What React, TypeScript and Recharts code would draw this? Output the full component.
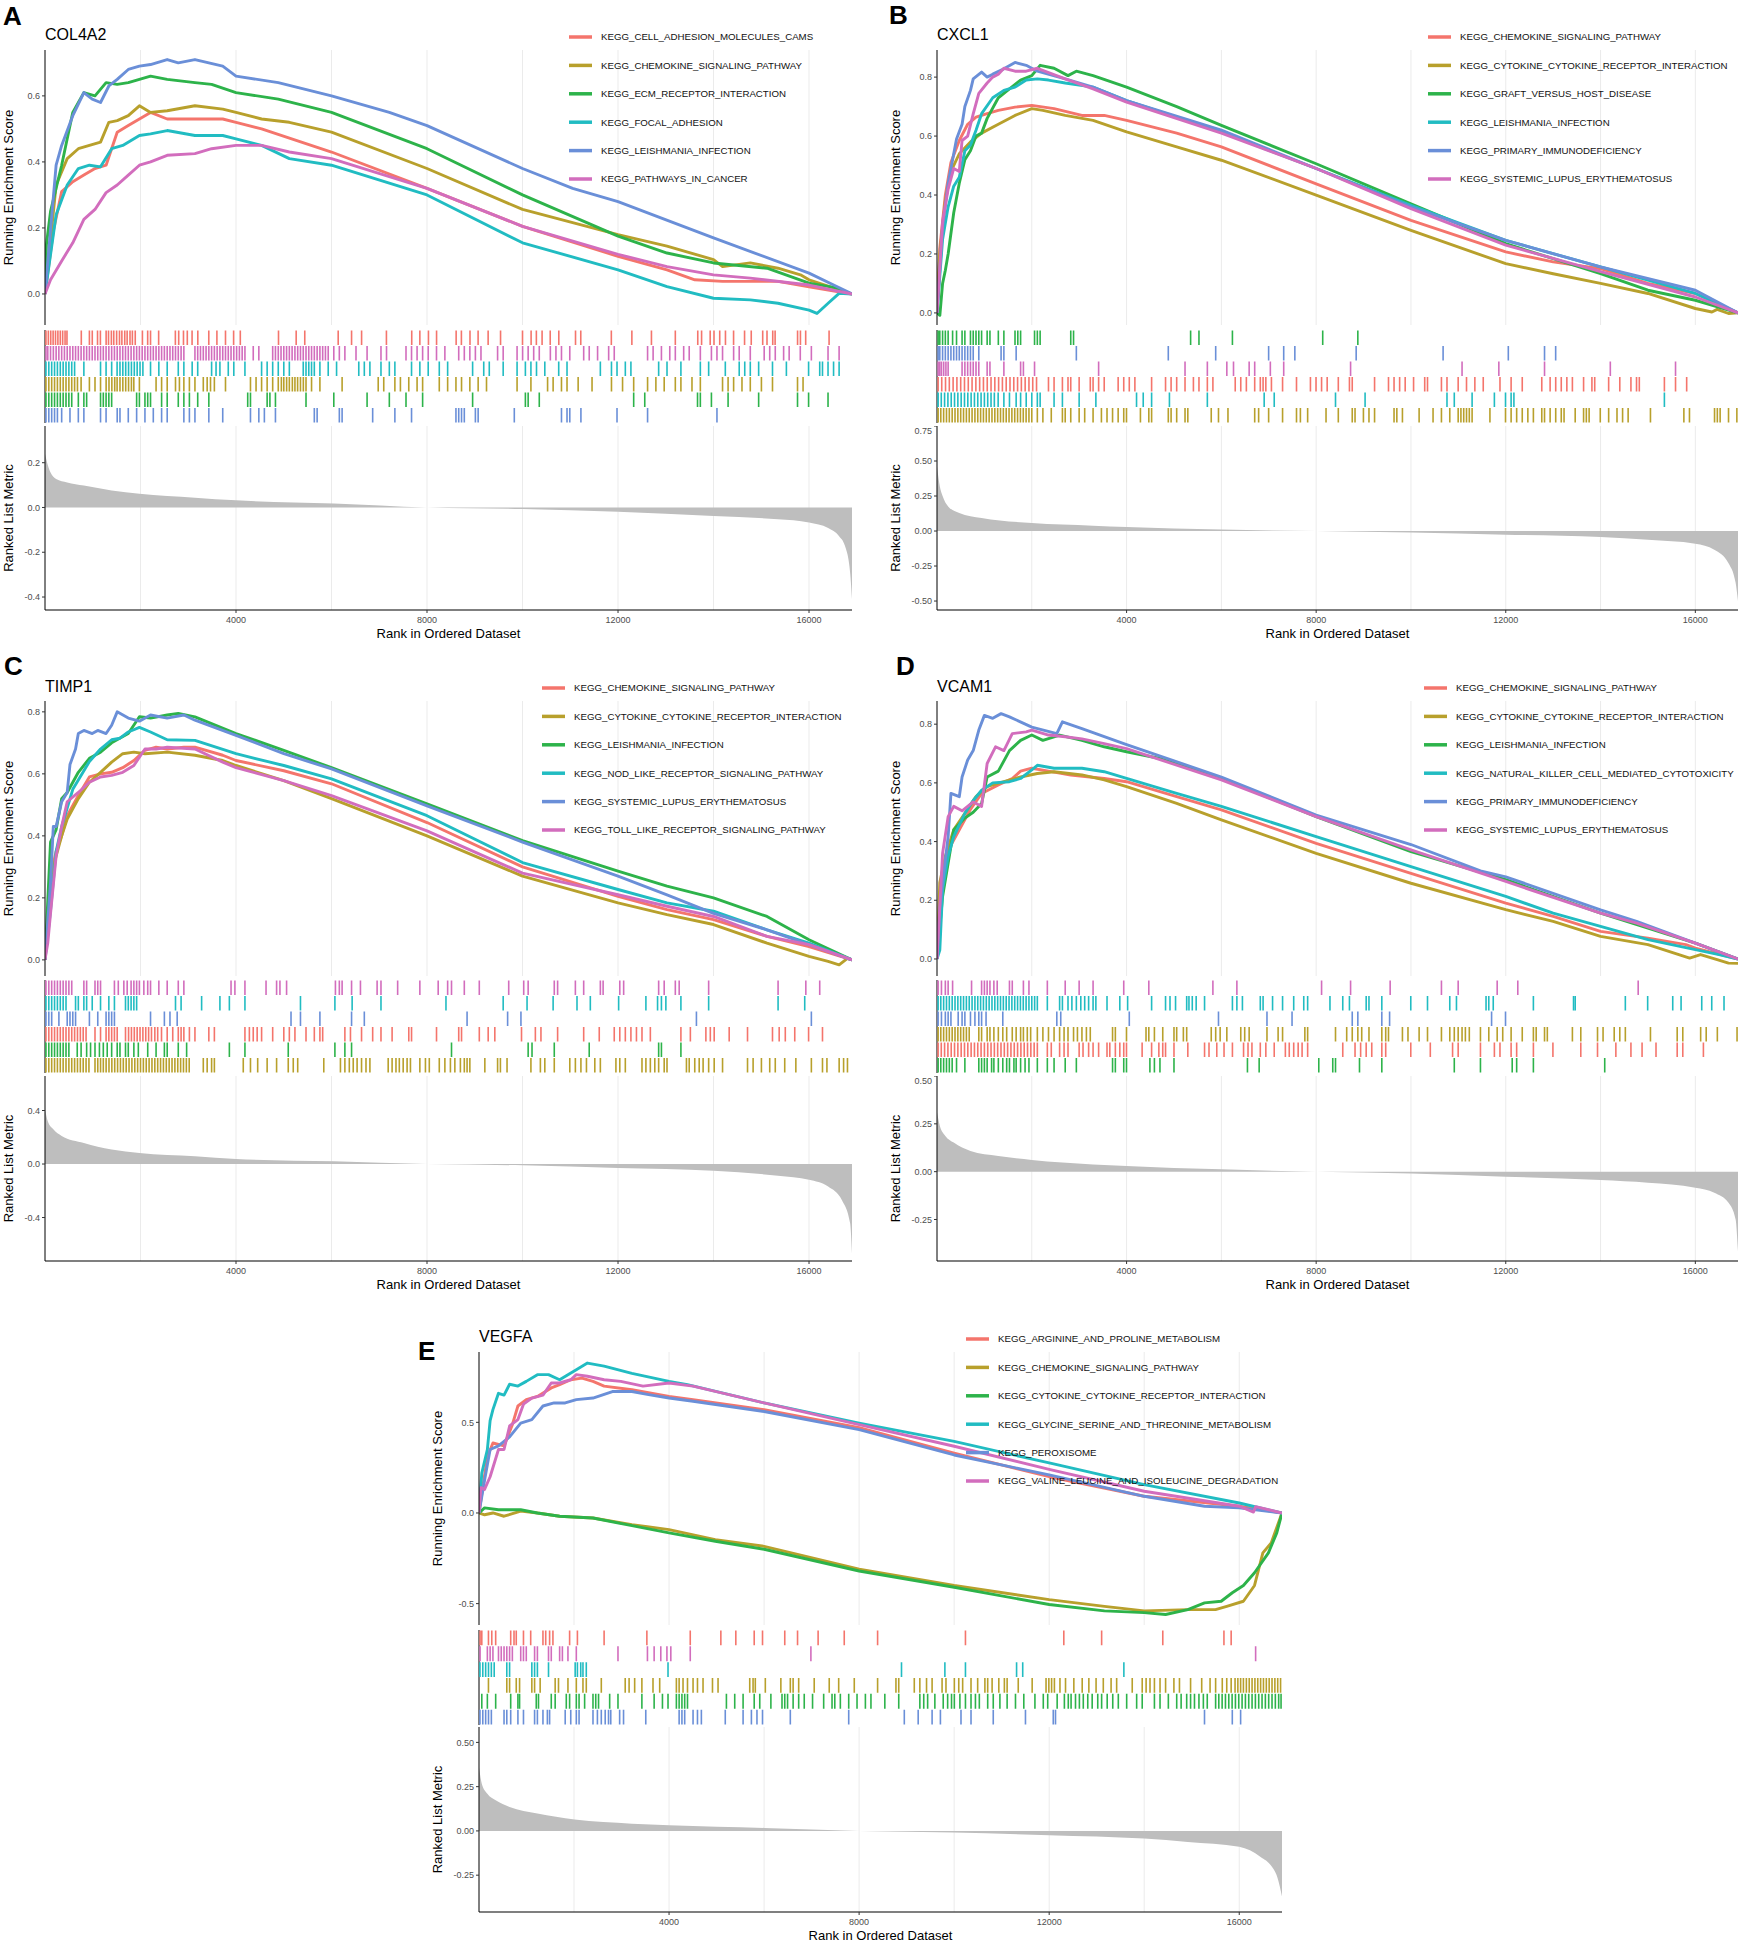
import React from "react";
import { ComposedChart, Line, Area, Scatter, XAxis, YAxis, CartesianGrid } from "recharts";

const N_GENES = 16900;
const GRID_RANKS = [2000, 4000, 6000, 8000, 10000, 12000, 14000, 16000];

const RED = "#F4756C";
const OLIVE = "#B8A02C";
const GREEN = "#2DB34A";
const CYAN = "#21BCC2";
const BLUE = "#6A8FD8";
const PINK = "#D26DBD";
const SET_COLORS = [RED, OLIVE, GREEN, CYAN, BLUE, PINK];

// ---------- A: COL4A2 ----------
const setsA = [
  "KEGG_CELL_ADHESION_MOLECULES_CAMS",
  "KEGG_CHEMOKINE_SIGNALING_PATHWAY",
  "KEGG_ECM_RECEPTOR_INTERACTION",
  "KEGG_FOCAL_ADHESION",
  "KEGG_LEISHMANIA_INFECTION",
  "KEGG_PATHWAYS_IN_CANCER",
];
const esA_cams = [[0,0],[174,0.19],[349,0.31],[582,0.34],[814,0.36],[1047,0.38],[1279,0.39],[1512,0.49],[1744,0.51],[1977,0.53],[2210,0.55],[2559,0.53],[3140,0.53],[3722,0.53],[4000,0.52],[4536,0.5],[6000,0.43],[8000,0.32],[10000,0.205],[12000,0.114],[13026,0.073],[13608,0.043],[14190,0.038],[15350,0.038],[16000,0.022],[16900,0]];
const esA_chemokine = [[0,0],[233,0.33],[465,0.41],[698,0.44],[930,0.45],[1163,0.46],[1337,0.52],[1512,0.525],[1744,0.54],[1977,0.57],[2210,0.55],[2559,0.555],[3140,0.57],[3722,0.56],[4000,0.55],[4536,0.53],[5117,0.52],[6000,0.49],[8000,0.38],[10000,0.256],[12000,0.18],[13026,0.145],[14000,0.104],[14190,0.083],[14770,0.094],[15350,0.078],[15820,0.058],[16000,0.043],[16900,0]];
const esA_ecm = [[0,0],[30,0.15],[116,0.25],[349,0.39],[465,0.47],[582,0.55],[814,0.61],[1047,0.6],[1279,0.64],[1512,0.635],[1744,0.64],[1977,0.65],[2210,0.66],[2559,0.65],[3140,0.64],[3489,0.635],[4000,0.61],[4885,0.59],[6000,0.55],[8000,0.44],[10000,0.3],[12000,0.175],[13026,0.124],[14000,0.094],[15120,0.078],[16000,0.033],[16516,0.02],[16900,0]];
const esA_focal = [[0,0],[233,0.24],[465,0.33],[698,0.38],[930,0.39],[1163,0.385],[1396,0.44],[1628,0.45],[1977,0.48],[2210,0.485],[2559,0.495],[3140,0.48],[3722,0.48],[4000,0.47],[4536,0.45],[5117,0.41],[6000,0.39],[8000,0.3],[10000,0.155],[12000,0.073],[13026,0.022],[14000,-0.013],[14770,-0.018],[15350,-0.028],[16000,-0.049],[16166,-0.059],[16400,-0.028],[16630,0.002],[16900,0]];
const esA_leish = [[0,0],[233,0.39],[349,0.45],[582,0.54],[814,0.61],[989,0.59],[1163,0.58],[1337,0.63],[1512,0.65],[1744,0.68],[1977,0.69],[2210,0.695],[2559,0.71],[2791,0.7],[3140,0.71],[3722,0.69],[4000,0.66],[4885,0.64],[6000,0.6],[7211,0.55],[8000,0.51],[10000,0.38],[11050,0.32],[12000,0.28],[14000,0.17],[16000,0.063],[16516,0.027],[16900,0]];
const esA_cancer = [[0,0],[116,0.043],[349,0.1],[582,0.155],[814,0.226],[1047,0.256],[1279,0.307],[1512,0.33],[1744,0.36],[1977,0.39],[2210,0.4],[2559,0.42],[3140,0.425],[3489,0.44],[4000,0.45],[4536,0.45],[5117,0.43],[6000,0.41],[8000,0.32],[10000,0.205],[12000,0.12],[13026,0.083],[14000,0.058],[14770,0.048],[16000,0.027],[16900,0]];
const hitsA_cams = [20,70,120,170,220,270,320,370,420,460,760,930,990,1100,1160,1280,1330,1390,1440,1500,1560,1610,1670,1720,1780,1830,1890,2040,2150,2210,2380,2730,2800,2900,2980,3080,3200,3430,3600,3780,3950,4090,4890,5260,5440,6140,6420,6630,7150,7680,7850,8030,8200,8610,8720,8900,9070,9280,9540,10000,10180,10290,10410,10580,10760,11110,11220,11860,12290,12700,13200,13670,13750,13930,14010,14130,14250,14420,14650,14790,15030,15120,15240,15290,15760,15820,15930,16420];
const hitsA_chemokine = [20,80,140,200,260,320,380,440,500,560,620,680,756,930,1047,1163,1280,1340,1400,1460,1510,1570,1630,1690,1750,1810,1860,1977,2326,2442,2559,2733,2815,2908,3024,3140,3315,3396,3466,3547,3780,4303,4420,4536,4652,4768,4885,4950,5001,5060,5117,5180,5234,5290,5350,5410,5466,5582,5757,6222,6978,7094,7327,7443,7618,7792,7908,8257,8432,8606,8723,8897,9071,9246,9886,10176,10525,10641,10816,10932,11165,11456,11863,12095,12328,12619,12793,12967,13200,13317,13549,13724,14189,14305,14421,14596,14770,15003,15235,15759,15875];
const hitsA_ecm = [20,80,140,200,260,320,380,440,500,560,698,814,872,1163,1221,1279,1337,1396,1919,1977,2093,2151,2210,2442,2559,2791,2908,3024,3198,3431,4245,4303,4652,4710,4826,5466,6048,6745,7211,7560,7908,8955,10060,10118,10351,12328,12560,13665,13724,13956,14305,14945,15759,15991,16398];
const hitsA_focal = [20,80,140,200,260,320,380,440,500,560,620,814,1163,1279,1396,1510,1570,1630,1690,1750,1810,1870,1930,1990,2050,2210,2384,2559,2791,2908,3082,3198,3489,3582,3663,3838,3954,4187,4536,4652,4768,4885,5001,5117,5408,5466,5524,5582,5640,5757,5931,6106,6571,6687,6804,7036,7211,7327,7676,7850,8025,8257,8432,8955,9188,9304,9595,9886,10060,10176,10293,10467,10758,10932,11630,11863,11979,12153,12270,12851,13026,13317,13724,13898,14247,14538,14654,14770,14945,15235,15526,15991,16224,16282,16398,16514,16630];
const hitsA_leish = [20,80,140,200,260,349,523,698,814,1163,1279,1512,1570,1744,1919,2093,2268,2442,2559,2908,3024,3140,3431,3722,4303,4478,4594,4826,5640,5699,6164,6222,6862,7327,7676,8606,8664,8723,8781,9013,9071,9828,10816,10932,10990,11223,11979,12619,14072];
const hitsA_cancer = [20,58,116,175,233,290,349,407,465,523,582,640,698,756,814,872,930,989,1047,1105,1163,1221,1279,1337,1396,1454,1512,1570,1628,1686,1744,1803,1861,1919,1977,2035,2093,2151,2210,2268,2326,2384,2442,2500,2559,2617,2675,2733,2791,2850,2908,3140,3198,3256,3315,3373,3431,3489,3547,3605,3663,3722,3780,3838,3896,3954,4013,4071,4129,4187,4361,4478,4768,4826,4885,4943,5001,5059,5117,5175,5234,5292,5350,5408,5466,5524,5582,5640,5699,5757,5815,5873,5931,6048,6164,6280,6513,6745,7036,7152,7560,7676,7792,7908,8025,8199,8374,8664,8781,8897,9013,9130,9478,9595,9886,10002,10118,10234,10351,10583,10700,10816,10990,11281,11397,11572,11804,11921,12619,12735,12909,13084,13200,13375,13491,13724,13956,14072,14189,14421,14538,14770,15061,15177,15293,15468,15584,15817,16049,16398,16630];
const rugOrderA = [0, 5, 3, 1, 2, 4];
const metricRankA = [0,58,116,233,465,814,1396,1977,3140,4000,6048,8000,10000,12000,14000,15350,16000,16400,16630,16750,16860,16900];
const metricValueA = [0.24,0.19,0.156,0.127,0.112,0.098,0.076,0.061,0.044,0.032,0.018,0,-0.007,-0.019,-0.038,-0.053,-0.067,-0.092,-0.128,-0.17,-0.29,-0.41];

// ---------- B: CXCL1 ----------
const setsB = [
  "KEGG_CHEMOKINE_SIGNALING_PATHWAY",
  "KEGG_CYTOKINE_CYTOKINE_RECEPTOR_INTERACTION",
  "KEGG_GRAFT_VERSUS_HOST_DISEASE",
  "KEGG_LEISHMANIA_INFECTION",
  "KEGG_PRIMARY_IMMUNODEFICIENCY",
  "KEGG_SYSTEMIC_LUPUS_ERYTHEMATOSUS",
];
const esB_chemokine = [[0,0],[59,0.22],[176,0.4],[294,0.51],[470,0.585],[647,0.64],[823,0.664],[1058,0.676],[1294,0.687],[1646,0.698],[2000,0.704],[2470,0.693],[3058,0.67],[3528,0.67],[4000,0.653],[5057,0.61],[6000,0.563],[8000,0.438],[10000,0.314],[12000,0.207],[13000,0.173],[14000,0.15],[15000,0.1],[16000,0.066],[16900,0]];
const esB_cytokine = [[0,0],[59,0.2],[176,0.38],[294,0.48],[470,0.54],[706,0.58],[941,0.61],[1294,0.64],[1646,0.67],[2000,0.693],[2234,0.687],[2705,0.67],[3293,0.653],[4000,0.614],[5057,0.563],[6000,0.518],[8000,0.4],[10000,0.28],[12000,0.167],[13000,0.133],[14000,0.1],[15000,0.066],[16000,0.015],[16350,0.003],[16460,0.012],[16700,-0.002],[16900,0]];
const esB_gvhd = [[0,0],[60,-0.008],[118,0.1],[176,0.145],[235,0.2],[353,0.34],[470,0.44],[588,0.52],[706,0.55],[823,0.6],[941,0.61],[1058,0.66],[1294,0.73],[1529,0.76],[1764,0.79],[2000,0.805],[2176,0.84],[2470,0.83],[2764,0.805],[2940,0.82],[3293,0.805],[4000,0.766],[5057,0.7],[6000,0.636],[8000,0.506],[10000,0.37],[12000,0.235],[13000,0.184],[14000,0.133],[15000,0.077],[16000,0.043],[16900,0]];
const esB_leish = [[0,0],[118,0.25],[235,0.36],[353,0.43],[470,0.46],[588,0.55],[706,0.57],[823,0.62],[941,0.676],[1176,0.73],[1411,0.755],[1646,0.766],[1882,0.79],[2117,0.794],[2352,0.79],[2705,0.78],[3293,0.766],[4000,0.72],[6000,0.614],[8000,0.49],[10000,0.365],[12000,0.246],[14000,0.156],[16000,0.066],[16900,0]];
const esB_primary = [[0,0],[118,0.29],[235,0.44],[353,0.54],[412,0.59],[529,0.64],[588,0.7],[706,0.755],[764,0.794],[941,0.817],[1058,0.8],[1176,0.81],[1411,0.828],[1646,0.85],[1882,0.84],[2117,0.82],[2705,0.794],[3293,0.766],[4000,0.72],[6000,0.62],[8000,0.49],[10000,0.36],[12000,0.246],[14000,0.156],[16000,0.077],[16900,0]];
const esB_sle = [[0,0],[118,0.31],[235,0.42],[353,0.49],[470,0.48],[529,0.585],[647,0.6],[764,0.675],[882,0.745],[1058,0.78],[1176,0.8],[1294,0.81],[1411,0.83],[1646,0.82],[1882,0.82],[2117,0.83],[2705,0.794],[3293,0.76],[4000,0.715],[6000,0.61],[8000,0.49],[10000,0.354],[12000,0.23],[14000,0.14],[16000,0.054],[16900,0]];
const hitsB_chemokine = [24,100,180,260,340,420,500,580,660,740,820,900,980,1060,1140,1220,1300,1380,1460,1540,1620,1700,1780,1860,1940,2020,2100,2352,2470,2646,2764,2822,2999,3234,3293,3410,3528,3822,3940,4057,4175,4528,4822,4939,5057,5233,5410,5527,5704,5821,6292,6409,6527,6703,6821,6880,6938,7056,7291,7585,7879,7997,8114,8232,8467,8702,8761,9232,9526,9643,9761,9878,10055,10290,10349,10643,10760,10996,11172,11348,11525,11878,12113,12348,12760,12936,13054,13171,13289,13406,13642,13818,13877,14171,14406,14641,14759,14818,15347,15582,15817];
const hitsB_cytokine = [24,80,140,200,260,320,380,440,500,560,620,680,740,800,860,920,980,1040,1100,1160,1220,1280,1340,1400,1460,1520,1580,1640,1700,1760,1820,1880,1940,2000,2117,2234,2411,2646,2705,2822,2999,3116,3293,3469,3587,3704,3822,3940,3998,4292,4469,4528,4880,4939,5057,5233,5292,5786,5939,6139,6703,6786,6997,7291,7585,7667,7820,8208,8467,8761,8820,8997,9114,9232,9643,9702,9820,10172,10466,10643,10819,10996,11054,11113,11172,11231,11290,11666,11995,12113,12230,12348,12466,12583,12760,12818,12936,13054,13171,13230,13465,13642,13700,13759,13994,14171,14347,14465,14582,15053,15758,15876,16405,16464,16523,16700,16876];
const hitsB_gvhd = [24,59,118,176,235,329,412,529,588,706,764,823,882,941,1058,1117,1294,1411,1646,1705,1764,2058,2117,2176,2822,2881,5351,5527,6233,8138,8879];
const hitsB_leish = [24,90,160,230,300,370,440,510,580,650,720,790,860,930,1000,1070,1140,1210,1290,1411,1529,1670,1764,1882,2000,2117,2176,2470,2646,2999,3352,4210,4351,4528,4904,5704,6903,7115,8408,9032,10760,10914,11290,11760,11995,12113,12172,15347];
const hitsB_primary = [24,59,118,176,235,294,353,412,470,529,588,647,706,764,882,1352,1411,1670,2940,4880,5880,6997,7315,7550,8844,10678,12054,12818,13053];
const hitsB_sle = [24,59,94,141,188,235,529,588,647,706,764,823,882,1058,1117,1411,1764,1823,2058,3410,5233,5704,6115,6256,6586,6703,7033,7315,8726,11078,11854,12818,14206,15582];
const rugOrderB = [2, 4, 5, 0, 3, 1];
const metricRankB = [0,59,118,235,470,941,2000,3293,4000,6000,8000,10000,12000,14000,15000,16000,16400,16700,16850,16900];
const metricValueB = [0.46,0.32,0.25,0.176,0.129,0.093,0.057,0.038,0.029,0.01,0,-0.01,-0.026,-0.043,-0.062,-0.09,-0.133,-0.23,-0.37,-0.5];

// ---------- C: TIMP1 ----------
const setsC = [
  "KEGG_CHEMOKINE_SIGNALING_PATHWAY",
  "KEGG_CYTOKINE_CYTOKINE_RECEPTOR_INTERACTION",
  "KEGG_LEISHMANIA_INFECTION",
  "KEGG_NOD_LIKE_RECEPTOR_SIGNALING_PATHWAY",
  "KEGG_SYSTEMIC_LUPUS_ERYTHEMATOSUS",
  "KEGG_TOLL_LIKE_RECEPTOR_SIGNALING_PATHWAY",
];
const esC_chemokine = [[0,0],[116,0.27],[233,0.35],[349,0.4],[465,0.465],[698,0.53],[930,0.59],[1163,0.6],[1396,0.605],[1628,0.62],[1861,0.643],[2093,0.676],[2326,0.686],[2559,0.68],[2908,0.686],[3140,0.686],[3722,0.66],[4000,0.643],[5001,0.61],[6000,0.568],[8000,0.443],[10000,0.3],[12000,0.205],[13026,0.162],[14000,0.13],[15120,0.076],[16000,0.043],[16900,0]];
const esC_cytokine = [[0,0],[116,0.25],[233,0.335],[349,0.4],[465,0.454],[698,0.52],[930,0.573],[1163,0.605],[1396,0.638],[1628,0.665],[1861,0.67],[2093,0.665],[2559,0.67],[3140,0.66],[3722,0.643],[4000,0.627],[5001,0.578],[6000,0.52],[8000,0.4],[10000,0.27],[12000,0.184],[13026,0.146],[14000,0.114],[15120,0.054],[16000,0.011],[16400,-0.005],[16630,-0.016],[16805,0.005],[16900,0]];
const esC_leish = [[0,0],[116,0.38],[233,0.42],[349,0.52],[465,0.54],[698,0.605],[930,0.65],[1163,0.67],[1396,0.7],[1744,0.73],[1977,0.784],[2210,0.78],[2559,0.79],[2791,0.795],[3140,0.784],[4000,0.73],[5001,0.676],[6000,0.62],[8000,0.503],[10000,0.385],[12000,0.286],[13026,0.238],[14000,0.2],[15120,0.14],[16000,0.065],[16900,0]];
const esC_nod = [[0,0],[116,0.16],[233,0.35],[349,0.43],[465,0.49],[582,0.55],[698,0.58],[930,0.64],[1163,0.68],[1396,0.71],[1570,0.715],[1744,0.735],[1977,0.75],[2210,0.735],[2559,0.71],[3140,0.708],[4000,0.665],[5001,0.627],[6000,0.584],[8000,0.465],[10000,0.314],[12000,0.227],[13026,0.184],[14000,0.157],[15120,0.097],[16000,0.054],[16900,0]];
const esC_sle = [[0,0],[116,0.25],[174,0.43],[233,0.43],[349,0.51],[465,0.54],[523,0.63],[640,0.68],[698,0.73],[814,0.74],[989,0.73],[1105,0.74],[1279,0.73],[1396,0.757],[1512,0.8],[1744,0.78],[1977,0.77],[2210,0.79],[2559,0.78],[2908,0.79],[3140,0.773],[4000,0.724],[5001,0.665],[6000,0.616],[8000,0.497],[10000,0.38],[12000,0.27],[13026,0.21],[14000,0.15],[15120,0.097],[16000,0.049],[16900,0]];
const esC_toll = [[0,0],[58,0.054],[116,0.15],[233,0.335],[349,0.43],[465,0.51],[698,0.54],[930,0.573],[1163,0.59],[1396,0.595],[1628,0.605],[1861,0.627],[2093,0.68],[2326,0.68],[2559,0.686],[3140,0.68],[3722,0.638],[4000,0.62],[5001,0.578],[6000,0.53],[8000,0.416],[10000,0.28],[12000,0.21],[13026,0.173],[14000,0.14],[15120,0.076],[16000,0.049],[16900,0]];
const hitsC_chemokine = [20,80,140,200,260,320,380,440,500,560,620,680,740,800,860,1047,1163,1279,1337,1396,1454,1512,1686,1750,1810,1870,1930,1990,2050,2110,2170,2230,2300,2360,2440,2559,2675,2791,2850,2908,3024,3140,3431,3547,4187,4280,4361,4443,4536,4768,5001,5117,5234,5466,5640,5757,5815,6280,6397,6629,6862,7036,7269,7618,7676,8199,8664,8723,9095,9281,9420,9979,10269,10386,10735,11281,11607,11921,12037,12153,12270,12386,12502,12677,13317,13515,13840,13933,14014,14328,14712,15235,15375,15503,15701,15991,16282];
const hitsC_cytokine = [20,80,140,200,260,320,380,440,500,560,620,680,740,800,860,920,1047,1105,1163,1221,1280,1340,1400,1460,1520,1580,1640,1700,1760,1820,1880,1940,2000,2060,2120,2180,2240,2300,2360,2420,2480,2540,2600,2660,2720,2780,2840,2900,2960,3020,3315,3396,3489,3547,4152,4303,4454,4652,4850,5094,5199,5292,5838,6187,6280,6373,6455,6536,6629,6722,6804,7187,7269,7350,7420,7501,7583,7653,7850,7967,8048,8257,8374,8490,8583,8699,8781,8839,8897,9211,9478,9537,9676,10176,10374,10467,10665,10990,11107,11223,11339,11514,11630,11956,12037,12153,12502,12584,12677,12770,12851,12967,13026,13433,13491,13607,13700,13782,13898,14014,14189,14712,14829,15003,15177,15293,15491,15724,16049,16282,16375,16631,16724,16805];
const hitsC_leish = [20,80,140,200,260,320,380,440,500,675,756,872,954,1047,1140,1221,1303,1396,1512,1570,1686,1744,1861,1954,2151,2326,2500,2559,2791,2966,3861,4187,5094,6071,6280,6420,8513,10118,10199,10665,11397,12851,12909,13317];
const hitsC_nod = [20,80,140,200,260,320,380,440,640,698,814,872,989,1163,1337,1454,1686,1744,1803,1861,1919,2733,2850,3280,3663,3861,4187,5350,6071,6432,7036,8397,9595,10095,10641,11141,11420,12013,12584,12828,12909,13002,13317,13898,15352,15910];
const hitsC_sle = [20,80,140,291,465,523,582,640,930,1105,1279,1337,1396,1454,2210,2500,2617,2768,5152,5350,5757,6420,6687,8839,9688,9967,13642,16049];
const hitsC_toll = [20,80,140,200,260,320,380,440,500,560,814,872,1047,1105,1163,1454,1535,1651,1721,1803,1861,1919,1977,2070,2151,2210,2384,2559,2791,2908,3896,3977,4187,4629,4850,4920,5059,6082,6164,6222,6420,6606,6955,7036,7385,7850,8234,8432,8513,8781,9095,9711,10025,10118,10665,10735,11107,11281,11630,11688,12037,12118,12851,12967,13200,13281,13898,15352,15933,16224];
const rugOrderC = [5, 3, 4, 0, 2, 1];
const metricRankC = [0,58,174,349,814,1396,1977,3140,4000,6048,8000,10000,12000,14000,15350,16000,16400,16690,16860,16900];
const metricValueC = [0.41,0.32,0.26,0.21,0.158,0.108,0.083,0.058,0.038,0.02,0,-0.01,-0.03,-0.05,-0.088,-0.118,-0.168,-0.27,-0.44,-0.67];

// ---------- D: VCAM1 ----------
const setsD = [
  "KEGG_CHEMOKINE_SIGNALING_PATHWAY",
  "KEGG_CYTOKINE_CYTOKINE_RECEPTOR_INTERACTION",
  "KEGG_LEISHMANIA_INFECTION",
  "KEGG_NATURAL_KILLER_CELL_MEDIATED_CYTOTOXICITY",
  "KEGG_PRIMARY_IMMUNODEFICIENCY",
  "KEGG_SYSTEMIC_LUPUS_ERYTHEMATOSUS",
];
const esD_chemokine = [[0,0],[118,0.26],[235,0.37],[470,0.44],[706,0.51],[941,0.564],[1294,0.593],[1588,0.615],[1764,0.64],[2000,0.65],[2352,0.64],[2822,0.627],[3528,0.615],[4000,0.604],[5057,0.553],[6000,0.508],[8000,0.394],[10000,0.292],[12000,0.19],[13000,0.145],[14000,0.094],[15000,0.071],[15800,0.049],[16000,0.037],[16900,0]];
const esD_cytokine = [[0,0],[59,0.26],[176,0.35],[353,0.44],[588,0.496],[823,0.553],[1058,0.587],[1411,0.604],[1764,0.62],[2117,0.632],[2470,0.638],[3058,0.627],[3528,0.61],[4000,0.587],[5057,0.53],[6000,0.474],[8000,0.36],[10000,0.258],[12000,0.168],[13000,0.128],[14000,0.077],[15000,0.049],[15880,0.003],[16110,0.015],[16460,-0.002],[16700,-0.014],[16900,-0.015]];
const esD_leish = [[0,0],[118,0.213],[235,0.326],[353,0.44],[588,0.48],[764,0.5],[941,0.53],[1058,0.62],[1294,0.64],[1529,0.71],[1764,0.745],[2000,0.763],[2234,0.745],[2587,0.763],[3058,0.745],[3528,0.723],[4000,0.706],[4704,0.683],[6000,0.615],[8000,0.485],[10000,0.366],[12000,0.27],[14000,0.156],[16000,0.054],[16900,0]];
const esD_nk = [[0,0],[59,0.03],[118,0.236],[235,0.35],[353,0.417],[588,0.496],[764,0.54],[941,0.575],[1176,0.6],[1529,0.604],[1764,0.615],[2000,0.644],[2117,0.66],[2470,0.65],[3058,0.65],[3528,0.638],[4000,0.615],[5057,0.564],[6000,0.52],[8000,0.417],[10000,0.315],[12000,0.213],[13000,0.156],[14000,0.111],[15000,0.066],[16000,0.032],[16500,0.015],[16900,0]];
const esD_primary = [[0,0],[59,0.17],[118,0.26],[235,0.417],[294,0.564],[470,0.553],[529,0.62],[647,0.678],[764,0.71],[882,0.78],[1000,0.83],[1176,0.82],[1352,0.836],[1529,0.825],[2000,0.79],[2528,0.768],[2646,0.808],[3058,0.785],[4000,0.73],[6000,0.62],[8000,0.49],[10000,0.39],[11466,0.3],[12000,0.28],[14000,0.167],[14760,0.128],[16000,0.054],[16900,0]];
const esD_sle = [[0,0],[118,0.36],[235,0.485],[353,0.52],[529,0.505],[764,0.535],[941,0.52],[1058,0.666],[1235,0.723],[1411,0.71],[1588,0.768],[1882,0.774],[2000,0.78],[2352,0.763],[2705,0.757],[3058,0.75],[3528,0.734],[4000,0.717],[6000,0.61],[8000,0.485],[10000,0.372],[12000,0.264],[14000,0.156],[14760,0.122],[16000,0.054],[16900,0]];
const hitsD_chemokine = [24,90,160,230,300,370,440,510,580,650,720,790,860,930,1000,1070,1140,1210,1280,1350,1420,1490,1560,1630,1700,1770,1840,1910,1980,2050,2117,2328,2411,2587,2681,2764,2999,3081,3199,3293,3410,3587,3646,3763,3857,3940,3998,4328,4528,4681,4763,4822,5000,5292,5645,5739,5903,6056,6233,6468,6562,6645,6821,6938,7115,7350,7432,7526,7620,7703,7820,8561,8820,8938,9055,9173,9385,9467,9996,10408,10878,10996,11466,11760,11878,12113,12230,12583,12995,13583,13936,14323,14641,14876,15170,15617,15735,16170];
const hitsD_cytokine = [24,80,140,200,260,320,380,440,500,560,620,680,882,941,1058,1117,1200,1294,1388,1470,1588,1670,1764,1823,1905,1976,2117,2234,2352,2470,2587,2681,2764,2881,2963,3058,3152,3234,3704,3763,3998,4410,4469,4587,4763,5000,5057,5198,5268,5786,5880,5974,6115,6409,6492,6586,6962,7197,7291,7761,7820,8408,8644,8761,8879,8961,9114,9385,9467,9526,9820,9937,10172,10349,10643,10819,10914,10996,11078,11148,11231,11466,11642,11819,11936,12113,12348,12583,12642,12818,12877,13406,13583,13936,14053,14288,14406,14523,15053,15617,15735,16112,16229,16464,16880];
const hitsD_leish = [24,80,140,200,260,320,412,588,882,941,1000,1058,1152,1200,1294,1388,1470,1529,1623,1670,1764,1858,1940,2117,2328,2470,2705,2940,3704,3763,3940,3998,4492,4587,4704,5000,6550,6797,8055,8350,8408,8914,9385,10914,11466,12136,12230,12583,14088];
const hitsD_nk = [24,80,140,200,260,320,380,440,500,560,620,680,740,800,860,920,980,1040,1100,1160,1220,1280,1340,1400,1460,1520,1580,1640,1700,1760,1820,1880,1940,2000,2060,2117,2328,2587,2646,2764,2846,2940,3034,3116,3199,3293,3352,3587,3857,4022,4528,4822,4916,5033,5268,5316,5386,5468,5645,6233,6327,6444,6821,6880,7080,7291,7526,7738,7820,8291,8561,8702,9055,9114,9385,9996,10349,10819,10960,11584,11642,11736,12583,13430,13465,14523,14994,15523,15699,16135,16346,16605];
const hitsD_primary = [24,94,176,235,294,447,529,588,706,800,882,941,1035,1388,2528,2611,4057,5939,6962,7491,8761,8879,9385,9549,11701,11995];
const hitsD_sle = [24,94,176,235,329,729,941,1000,1058,1117,1200,1270,1529,1588,1823,1940,2328,2705,2999,3293,3940,4469,5821,6327,8114,8726,9561,10643,10996,11819,12254,14794];
const rugOrderD = [5, 3, 4, 1, 0, 2];
const metricRankD = [0,59,176,353,706,1294,2000,3293,4000,6000,8000,10000,12000,14000,15000,16000,16400,16700,16850,16900];
const metricValueD = [0.31,0.24,0.187,0.152,0.108,0.082,0.061,0.038,0.03,0.012,0,-0.009,-0.026,-0.044,-0.058,-0.084,-0.11,-0.163,-0.25,-0.416];

// ---------- E: VEGFA ----------
const setsE = [
  "KEGG_ARGININE_AND_PROLINE_METABOLISM",
  "KEGG_CHEMOKINE_SIGNALING_PATHWAY",
  "KEGG_CYTOKINE_CYTOKINE_RECEPTOR_INTERACTION",
  "KEGG_GLYCINE_SERINE_AND_THREONINE_METABOLISM",
  "KEGG_PEROXISOME",
  "KEGG_VALINE_LEUCINE_AND_ISOLEUCINE_DEGRADATION",
];
const esE_arginine = [[0,0],[176,0.31],[293,0.386],[527,0.37],[702,0.487],[819,0.59],[995,0.625],[1229,0.643],[1521,0.69],[1697,0.708],[1931,0.735],[2165,0.744],[2399,0.726],[2633,0.7],[3218,0.68],[4000,0.643],[4505,0.625],[6000,0.57],[8000,0.47],[10000,0.33],[12000,0.2],[14000,0.092],[16000,0.037],[16900,0]];
const esE_chemokine = [[0,0],[117,-0.01],[293,0],[527,-0.018],[878,0.01],[1229,0],[1697,-0.018],[2399,-0.028],[3218,-0.064],[4000,-0.092],[4973,-0.147],[6000,-0.184],[8000,-0.31],[10000,-0.4],[12000,-0.478],[13163,-0.515],[14000,-0.54],[14918,-0.533],[15500,-0.533],[15737,-0.515],[16088,-0.487],[16322,-0.4],[16497,-0.22],[16673,-0.165],[16900,0]];
const esE_cytokine = [[0,0],[117,0.028],[410,0.018],[878,0.018],[1229,0],[1697,-0.018],[2399,-0.028],[3218,-0.07],[4000,-0.11],[4973,-0.156],[6000,-0.2],[8000,-0.32],[10000,-0.41],[12000,-0.505],[13163,-0.54],[14000,-0.55],[14450,-0.56],[14918,-0.533],[15270,-0.496],[15620,-0.487],[15854,-0.44],[16088,-0.4],[16322,-0.33],[16614,-0.22],[16790,-0.11],[16900,0]];
const esE_glycine = [[0,0],[59,0.22],[176,0.35],[234,0.51],[293,0.57],[410,0.66],[527,0.65],[644,0.71],[819,0.7],[995,0.726],[1229,0.763],[1463,0.763],[1697,0.735],[1872,0.763],[2048,0.79],[2282,0.827],[2633,0.81],[3218,0.77],[4000,0.726],[4388,0.708],[6000,0.607],[8000,0.496],[10000,0.395],[12000,0.276],[14000,0.156],[16000,0.055],[16900,0]];
const esE_peroxisome = [[0,0],[117,0.18],[234,0.35],[410,0.37],[644,0.42],[878,0.496],[1112,0.515],[1346,0.59],[1580,0.607],[1814,0.607],[2048,0.625],[2399,0.634],[2808,0.67],[3218,0.67],[3569,0.653],[4000,0.634],[4505,0.616],[6000,0.56],[8000,0.46],[10000,0.32],[12000,0.21],[14000,0.092],[15270,0.037],[16000,0.028],[16900,0]];
const esE_valine = [[0,0],[40,0.14],[117,0.13],[234,0.2],[410,0.35],[527,0.35],[644,0.48],[819,0.515],[936,0.6],[1112,0.634],[1346,0.65],[1521,0.717],[1697,0.717],[1931,0.735],[2048,0.763],[2282,0.754],[2633,0.735],[2984,0.726],[3452,0.7],[4000,0.717],[4505,0.7],[6000,0.607],[8000,0.487],[10000,0.368],[12000,0.24],[14000,0.12],[16000,0.037],[16300,0.005],[16345,0.035],[16900,0]];
const hitsE_arginine = [23,59,199,269,351,667,737,784,936,1088,1346,1404,1486,1556,1907,2071,2633,3533,4446,5090,5405,5792,5967,6435,6704,7137,7687,8389,10238,12308,13104,14391,15678,15830];
const hitsE_chemokine = [199,585,644,784,854,1112,1170,1287,1603,1673,1872,2048,2188,2258,2574,3077,3159,3276,3428,3662,3803,4154,4212,4294,4388,4505,4598,4715,4914,5031,5698,5768,5815,6026,6353,6552,6611,6728,7055,7371,7570,7898,8389,8775,8834,9161,9278,9419,9536,9746,9828,10004,10097,10179,10355,10495,10647,10706,10799,10940,11057,11115,11349,11642,11934,11993,12051,12110,12227,12344,12519,12695,12835,12987,13139,13303,13420,13748,13958,14040,14122,14215,14333,14450,14625,14742,14976,15210,15386,15503,15643,15737,15830,15912,15971,16029,16088,16150,16210,16270,16330,16390,16450,16510,16570,16630,16690,16750,16810,16870];
const hitsE_cytokine = [59,176,351,667,819,854,1205,1252,1521,1603,1837,1907,2048,2106,2223,2399,2457,2516,2750,2925,3428,3686,3861,3978,4154,4212,4271,4329,4388,5207,5382,5558,5792,5909,6143,6377,6435,6494,6611,6728,6845,7020,7254,7430,7488,7605,7781,7956,8132,8249,8541,8834,9278,9360,9442,9594,9770,9863,9945,10004,10121,10238,10355,10448,10530,10706,10823,10963,11115,11291,11466,11700,11876,11969,12168,12320,12402,12461,12554,12636,12718,12812,12905,13022,13104,13221,13338,13455,13631,13841,13958,14215,14333,14508,14684,14777,14894,14976,15058,15152,15245,15327,15503,15570,15640,15710,15780,15850,15920,15990,16060,16130,16200,16270,16340,16410,16480,16550,16620,16690,16760,16830,16880];
const hitsE_glycine = [20,80,140,200,260,320,585,644,1112,1170,1229,1463,2024,2071,2141,2188,2258,3978,8892,9805,10238,11314,11443,13572];
const hitsE_peroxisome = [20,80,140,200,260,527,585,667,819,936,1170,1229,1346,1439,1486,1814,1931,2048,2106,2399,2492,2574,2656,2726,2773,2960,3042,3510,4212,4271,4329,4505,4598,4680,5183,5558,5733,5850,5967,6552,7781,8951,9243,9536,9711,10144,10355,10823,11501,12086,12133,15269,15854,16029];
const hitsE_valine = [23,176,234,293,410,468,527,585,644,702,878,936,995,1170,1229,1463,1521,1697,1755,1872,2048,2925,3545,3686,3826,3955,4037,4446,6985,16345];
const rugOrderE = [0, 5, 3, 1, 2, 4];
const metricRankE = [0,59,176,351,644,1229,2013,3218,4000,6000,8000,10000,12000,14000,14918,16000,16450,16680,16800,16900];
const metricValueE = [0.36,0.267,0.21,0.173,0.135,0.098,0.064,0.041,0.032,0.017,0,-0.009,-0.024,-0.043,-0.062,-0.09,-0.147,-0.2,-0.26,-0.37];

// ---------- layout ----------
const PANELS = [
  {
    letter: "A", letterX: 3, letterY: 25, gene: "COL4A2", geneY: 40, left: 45, right: 852, titleX: 8,
    esTop: 50, esBottom: 325, rugTop: 330, rugBottom: 423, metTop: 426, metBottom: 610,
    legendX: 569, legendY: 37,
    esDomain: [-0.094, 0.739], esTicks: [0, 0.2, 0.4, 0.6], esDigits: 1,
    metDomain: [-0.458, 0.364], metTicks: [-0.4, -0.2, 0, 0.2], metDigits: 1,
    sets: setsA,
    es: [esA_cams, esA_chemokine, esA_ecm, esA_focal, esA_leish, esA_cancer],
    hits: [hitsA_cams, hitsA_chemokine, hitsA_ecm, hitsA_focal, hitsA_leish, hitsA_cancer],
    rugOrder: rugOrderA, metricRank: metricRankA, metricValue: metricValueA,
  },
  {
    letter: "B", letterX: 889, letterY: 24, gene: "CXCL1", geneY: 40, left: 937, right: 1738, titleX: 895,
    esTop: 50, esBottom: 325, rugTop: 330, rugBottom: 423, metTop: 426, metBottom: 610,
    legendX: 1428, legendY: 37,
    esDomain: [-0.041, 0.892], esTicks: [0, 0.2, 0.4, 0.6, 0.8], esDigits: 1,
    metDomain: [-0.564, 0.75], metTicks: [-0.5, -0.25, 0, 0.25, 0.5, 0.75], metDigits: 2,
    sets: setsB,
    es: [esB_chemokine, esB_cytokine, esB_gvhd, esB_leish, esB_primary, esB_sle],
    hits: [hitsB_chemokine, hitsB_cytokine, hitsB_gvhd, hitsB_leish, hitsB_primary, hitsB_sle],
    rugOrder: rugOrderB, metricRank: metricRankB, metricValue: metricValueB,
  },
  {
    letter: "C", letterX: 4, letterY: 675, gene: "TIMP1", geneY: 692, left: 45, right: 852, titleX: 8,
    esTop: 701, esBottom: 976, rugTop: 980, rugBottom: 1073, metTop: 1076, metBottom: 1261,
    legendX: 542, legendY: 688,
    esDomain: [-0.052, 0.835], esTicks: [0, 0.2, 0.4, 0.6, 0.8], esDigits: 1,
    metDomain: [-0.725, 0.658], metTicks: [-0.4, 0, 0.4], metDigits: 1,
    sets: setsC,
    es: [esC_chemokine, esC_cytokine, esC_leish, esC_nod, esC_sle, esC_toll],
    hits: [hitsC_chemokine, hitsC_cytokine, hitsC_leish, hitsC_nod, hitsC_sle, hitsC_toll],
    rugOrder: rugOrderC, metricRank: metricRankC, metricValue: metricValueC,
  },
  {
    letter: "D", letterX: 896, letterY: 675, gene: "VCAM1", geneY: 692, left: 937, right: 1738, titleX: 895,
    esTop: 701, esBottom: 976, rugTop: 980, rugBottom: 1073, metTop: 1076, metBottom: 1261,
    legendX: 1424, legendY: 688,
    esDomain: [-0.058, 0.879], esTicks: [0, 0.2, 0.4, 0.6, 0.8], esDigits: 1,
    metDomain: [-0.467, 0.5], metTicks: [-0.25, 0, 0.25, 0.5], metDigits: 2,
    sets: setsD,
    es: [esD_chemokine, esD_cytokine, esD_leish, esD_nk, esD_primary, esD_sle],
    hits: [hitsD_chemokine, hitsD_cytokine, hitsD_leish, hitsD_nk, hitsD_primary, hitsD_sle],
    rugOrder: rugOrderD, metricRank: metricRankD, metricValue: metricValueD,
  },
  {
    letter: "E", letterX: 418, letterY: 1360, gene: "VEGFA", geneY: 1342, left: 479, right: 1282, titleX: 437,
    esTop: 1352, esBottom: 1625, rugTop: 1630, rugBottom: 1725, metTop: 1727, metBottom: 1912,
    legendX: 966, legendY: 1339,
    esDomain: [-0.618, 0.888], esTicks: [-0.5, 0, 0.5], esDigits: 1,
    metDomain: [-0.458, 0.587], metTicks: [-0.25, 0, 0.25, 0.5], metDigits: 2,
    sets: setsE,
    es: [esE_arginine, esE_chemokine, esE_cytokine, esE_glycine, esE_peroxisome, esE_valine],
    hits: [hitsE_arginine, hitsE_chemokine, hitsE_cytokine, hitsE_glycine, hitsE_peroxisome, hitsE_valine],
    rugOrder: rugOrderE, metricRank: metricRankE, metricValue: metricValueE,
  },
];

const YW = 45;
const XH = 30;
const NO_MARGIN = { top: 0, right: 0, bottom: 0, left: 0 };
const Y_TICK = { fontSize: 9, fill: "#4D4D4D" };
const LEGEND_STEP = 28.4;

const toPoints = (pairs) => pairs.map(([x, y]) => ({ x, y }));

function RankTick(props) {
  const { x, y, payload } = props;
  if (payload.value % 4000 !== 0) return <g />;
  return (
    <g>
      <line x1={x} x2={x} y1={y - 5} y2={y - 2} stroke="#333" strokeWidth={1} />
      <text x={x} y={y + 7.5} textAnchor="middle" fontSize={9} fill="#4D4D4D">
        {payload.value}
      </text>
    </g>
  );
}

function Panel({ p }) {
  const w = p.right - p.left;
  const esH = p.esBottom - p.esTop;
  const rugH = p.rugBottom - p.rugTop;
  const metH = p.metBottom - p.metTop;
  const rowH = rugH / 6;
  const metric = p.metricRank.map((x, i) => ({ x, y: p.metricValue[i] }));

  return (
    <>
      <div style={{ position: "absolute", left: p.left - YW, top: p.esTop }}>
        <ComposedChart width={w + YW} height={esH} margin={NO_MARGIN}>
          <CartesianGrid horizontal={false} verticalValues={GRID_RANKS} stroke="#EBEBEB" />
          <XAxis type="number" dataKey="x" domain={[0, N_GENES]} ticks={GRID_RANKS} hide allowDataOverflow />
          <YAxis
            type="number"
            domain={p.esDomain}
            ticks={p.esTicks}
            allowDataOverflow
            width={YW}
            tick={Y_TICK}
            tickFormatter={(v) => v.toFixed(p.esDigits)}
            tickSize={3}
            tickMargin={2}
            axisLine={{ stroke: "#000" }}
            tickLine={{ stroke: "#333" }}
          />
          {p.es.map((pairs, i) => (
            <Line
              key={p.sets[i]}
              data={toPoints(pairs)}
              dataKey="y"
              type="linear"
              stroke={SET_COLORS[i]}
              strokeWidth={2.9}
              strokeLinejoin="round"
              dot={false}
              activeDot={false}
              isAnimationActive={false}
            />
          ))}
        </ComposedChart>
      </div>

      <div style={{ position: "absolute", left: p.left - YW, top: p.rugTop }}>
        <ComposedChart width={w + YW} height={rugH} margin={NO_MARGIN}>
          <XAxis type="number" dataKey="x" domain={[0, N_GENES]} hide allowDataOverflow />
          <YAxis type="number" dataKey="y" domain={[0, 6]} width={YW} tick={false} tickLine={false} axisLine={{ stroke: "#000" }} />
          {p.rugOrder.map((si, row) => (
            <Scatter
              key={p.sets[si]}
              data={p.hits[si].map((x) => ({ x, y: 5.5 - row }))}
              isAnimationActive={false}
              shape={(s) => (
                <line
                  x1={s.cx}
                  x2={s.cx}
                  y1={s.cy - rowH / 2 + 0.5}
                  y2={s.cy + rowH / 2 - 0.5}
                  stroke={SET_COLORS[si]}
                  strokeWidth={1.6}
                />
              )}
            />
          ))}
        </ComposedChart>
      </div>

      <div style={{ position: "absolute", left: p.left - YW, top: p.metTop }}>
        <ComposedChart width={w + YW} height={metH + XH} data={metric} margin={NO_MARGIN}>
          <CartesianGrid horizontal={false} verticalValues={GRID_RANKS} stroke="#EBEBEB" />
          <XAxis
            type="number"
            dataKey="x"
            domain={[0, N_GENES]}
            ticks={GRID_RANKS}
            interval={0}
            height={XH}
            tick={<RankTick />}
            tickLine={false}
            tickSize={3}
            tickMargin={2}
            axisLine={{ stroke: "#000", strokeWidth: 1.2 }}
            allowDataOverflow
          />
          <YAxis
            type="number"
            domain={p.metDomain}
            ticks={p.metTicks}
            allowDataOverflow
            width={YW}
            tick={Y_TICK}
            tickFormatter={(v) => v.toFixed(p.metDigits)}
            tickSize={3}
            tickMargin={2}
            axisLine={{ stroke: "#000" }}
            tickLine={{ stroke: "#333" }}
          />
          <Area
            dataKey="y"
            type="monotone"
            baseValue={0}
            fill="#BEBEBE"
            fillOpacity={1}
            stroke="none"
            isAnimationActive={false}
          />
        </ComposedChart>
      </div>
    </>
  );
}

function Labels() {
  return (
    <svg width={1741} height={1941} style={{ position: "absolute", left: 0, top: 0, pointerEvents: "none" }}>
      {PANELS.map((p) => {
        const esMid = (p.esTop + p.esBottom) / 2;
        const metMid = (p.metTop + p.metBottom) / 2;
        return (
          <g key={p.letter}>
            <text x={p.letterX} y={p.letterY} fontSize={26} fontWeight="bold" fill="#000">{p.letter}</text>
            <text x={p.left} y={p.geneY} fontSize={16} fill="#000">{p.gene}</text>
            {p.sets.map((name, i) => {
              const cy = p.legendY + i * LEGEND_STEP;
              return (
                <g key={name}>
                  <line x1={p.legendX} x2={p.legendX + 23} y1={cy} y2={cy} stroke={SET_COLORS[i]} strokeWidth={3.5} />
                  <text x={p.legendX + 32} y={cy} dy="0.35em" fontSize={9.7} fill="#111">{name}</text>
                </g>
              );
            })}
            <text
              x={p.titleX}
              y={esMid}
              transform={`rotate(-90 ${p.titleX} ${esMid})`}
              textAnchor="middle"
              dy="0.35em"
              fontSize={13}
              fill="#000"
            >
              Running Enrichment Score
            </text>
            <text
              x={p.titleX}
              y={metMid}
              transform={`rotate(-90 ${p.titleX} ${metMid})`}
              textAnchor="middle"
              dy="0.35em"
              fontSize={13}
              fill="#000"
            >
              Ranked List Metric
            </text>
            <text x={(p.left + p.right) / 2} y={p.metBottom + 27.5} textAnchor="middle" fontSize={13} fill="#000">
              Rank in Ordered Dataset
            </text>
          </g>
        );
      })}
    </svg>
  );
}

export default function App() {
  return (
    <div
      style={{
        position: "relative",
        width: 1741,
        height: 1941,
        background: "#fff",
        fontFamily: "'Liberation Sans', Arial, Helvetica, sans-serif",
        overflow: "hidden",
      }}
    >
      <style>{"body{margin:0}"}</style>
      {PANELS.map((p) => (
        <Panel key={p.letter} p={p} />
      ))}
      <Labels />
    </div>
  );
}
